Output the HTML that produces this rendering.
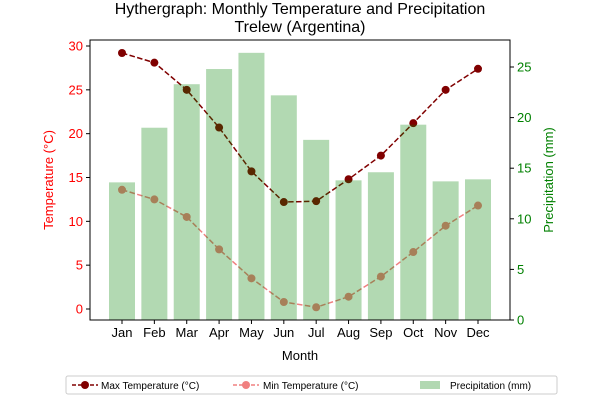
<!DOCTYPE html>
<html><head><meta charset="utf-8"><style>
body{margin:0;background:#fff;}
svg text{font-family:"Liberation Sans","DejaVu Sans",sans-serif;}
</style></head><body>
<svg id="chart" width="600" height="400" xmlns="http://www.w3.org/2000/svg">
<rect width="600" height="400" fill="#fff"/>
<text x="300" y="14" text-anchor="middle" font-size="16">Hythergraph: Monthly Temperature and Precipitation</text>
<text x="300" y="32" text-anchor="middle" font-size="16">Trelew (Argentina)</text>
<g id="lines"></g><g id="bars"></g><g id="axes"></g>
<text x="300" y="360" text-anchor="middle" font-size="13">Month</text>
<text transform="translate(53,180) rotate(-90)" text-anchor="middle" font-size="13" fill="red">Temperature (°C)</text>
<text transform="translate(553,180) rotate(-90)" text-anchor="middle" font-size="13" fill="green">Precipitation (mm)</text>
<g>
<rect x="66" y="376" width="491" height="18" fill="#fff" stroke="#ccc" rx="2"/>
<g><line x1="72" y1="385" x2="98" y2="385" stroke="#800000" stroke-dasharray="4,2" stroke-width="1.5"/><circle cx="85" cy="385" r="4" fill="#800000"/><text x="101" y="389" font-size="10">Max Temperature (°C)</text></g>
<g><line x1="233" y1="385" x2="259" y2="385" stroke="#f08080" stroke-dasharray="4,2" stroke-width="1.5"/><circle cx="246" cy="385" r="4" fill="#f08080"/><text x="263" y="389" font-size="10">Min Temperature (°C)</text></g>
<g><rect x="420" y="381" width="20" height="8" fill="#b2d8b2"/><text x="450" y="389" font-size="10">Precipitation (mm)</text></g>
</g>
</svg>
<script>
const months=["Jan","Feb","Mar","Apr","May","Jun","Jul","Aug","Sep","Oct","Nov","Dec"];
const maxTemp=[29.2,28.1,25.0,20.7,15.7,12.2,12.3,14.8,17.5,21.2,25.0,27.4];
const minTemp=[13.6,12.5,10.5,6.8,3.5,0.8,0.2,1.4,3.7,6.5,9.5,11.8];
const precip=[13.6,19.0,23.3,24.8,26.4,22.2,17.8,13.8,14.6,19.3,13.7,13.9];
const tempTicks=[0,5,10,15,20,25,30];
const precipTicks=[0,5,10,15,20,25];
const NS="http://www.w3.org/2000/svg";
const L=90,R=510,T=40,B=320;
const xs=i=>122+i*(478-122)/11;
const yT=v=>309-v*(309-46)/30;
const yP=v=>320-v*(320-67)/25;
function mk(tag,attrs,parent){const e=document.createElementNS(NS,tag);for(const k in attrs)e.setAttribute(k,attrs[k]);document.getElementById(parent).appendChild(e);return e;}
function series(vals,color,name){
 const p=mk('polyline',{points:vals.map((v,i)=>xs(i)+','+yT(v)).join(' '),fill:'none',stroke:color,'stroke-width':1.5,'stroke-dasharray':'5.5,2.4'},'lines');
 
 
 vals.forEach((v,i)=>{const c=mk('circle',{cx:xs(i),cy:yT(v),r:4,fill:color},'lines');
 
 });
}
series(maxTemp,'#800000','max-temp');
series(minTemp,'#f08080','min-temp');
precip.forEach((v,i)=>{const r=mk('rect',{x:xs(i)-13,y:yP(v),width:26,height:yP(0)-yP(v),fill:'green','fill-opacity':0.3},'bars');

});
const fr=mk('rect',{x:L,y:T,width:R-L,height:B-T,fill:'none',stroke:'#000','stroke-width':1},'axes');


tempTicks.forEach(v=>{const y=yT(v);mk('line',{x1:L-4,x2:L,y1:y,y2:y,stroke:'#000'},'axes');
 const t=mk('text',{x:L-7,y:y+4.5,'text-anchor':'end','font-size':13,fill:'red'},'axes');t.textContent=v;
 
 });
precipTicks.forEach(v=>{const y=yP(v);mk('line',{x1:R,x2:R+4,y1:y,y2:y,stroke:'#000'},'axes');
 const t=mk('text',{x:R+7,y:y+4.5,'font-size':13,fill:'green'},'axes');t.textContent=v;
 
 });
months.forEach((m,i)=>{mk('line',{x1:xs(i),x2:xs(i),y1:B,y2:B+4,stroke:'#000'},'axes');
 const t=mk('text',{x:xs(i),y:B+17,'text-anchor':'middle','font-size':13},'axes');t.textContent=m;
 
 });
</script>
</body></html>
